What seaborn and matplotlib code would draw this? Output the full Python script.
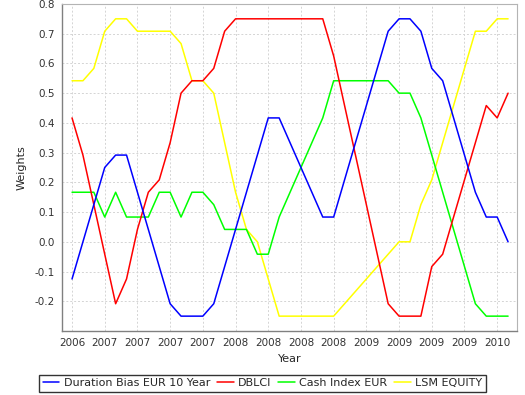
import matplotlib
matplotlib.use("Agg")
import matplotlib.pyplot as plt
import pandas as pd
import seaborn as sns
from matplotlib.lines import Line2D

# ── Data (monthly weights, Dec 2006 .. Apr 2010) ──────────
series_names = ["Duration Bias EUR 10 Year", "DBLCI", "Cash Index EUR", "LSM EQUITY"]
series_colors = ["#0000ff", "#ff0000", "#00ff00", "#ffff00"]

duration_bias = [-0.125, 0.0, 0.125, 0.25, 0.2917, 0.2917, 0.1667, 0.0417, -0.0833, -0.2083,
                 -0.25, -0.25, -0.25, -0.2083, -0.0833, 0.0417, 0.1667, 0.2917, 0.4167, 0.4167,
                 0.3333, 0.25, 0.1667, 0.0833, 0.0833, 0.2083, 0.3333, 0.4583, 0.5833, 0.7083,
                 0.75, 0.75, 0.7083, 0.5833, 0.5417, 0.4167, 0.2917, 0.1667, 0.0833, 0.0833, 0.0]
dblci = [0.4167, 0.2917, 0.125, -0.0417, -0.2083, -0.125, 0.0417, 0.1667, 0.2083, 0.3333,
         0.5, 0.5417, 0.5417, 0.5833, 0.7083, 0.75, 0.75, 0.75, 0.75, 0.75,
         0.75, 0.75, 0.75, 0.75, 0.625, 0.4583, 0.2917, 0.125, -0.0417, -0.2083,
         -0.25, -0.25, -0.25, -0.0833, -0.0417, 0.0833, 0.2083, 0.3333, 0.4583, 0.4167, 0.5]
cash_index = [0.1667, 0.1667, 0.1667, 0.0833, 0.1667, 0.0833, 0.0833, 0.0833, 0.1667, 0.1667,
              0.0833, 0.1667, 0.1667, 0.125, 0.0417, 0.0417, 0.0417, -0.0417, -0.0417, 0.0833,
              0.1667, 0.25, 0.3333, 0.4167, 0.5417, 0.5417, 0.5417, 0.5417, 0.5417, 0.5417,
              0.5, 0.5, 0.4167, 0.2917, 0.1667, 0.0417, -0.0833, -0.2083, -0.25, -0.25, -0.25]
lsm_equity = [0.5417, 0.5417, 0.5833, 0.7083, 0.75, 0.75, 0.7083, 0.7083, 0.7083, 0.7083,
              0.6667, 0.5417, 0.5417, 0.5, 0.3333, 0.1667, 0.0417, 0.0, -0.125, -0.25,
              -0.25, -0.25, -0.25, -0.25, -0.25, -0.2083, -0.1667, -0.125, -0.0833, -0.0417,
              0.0, 0.0, 0.125, 0.2083, 0.3333, 0.4583, 0.5833, 0.7083, 0.7083, 0.75, 0.75]

# quarterly tick labels (every 3rd month)
tick_labels = ["2006", "2007", "2007", "2007", "2007", "2008", "2008",
               "2008", "2008", "2009", "2009", "2009", "2009", "2010"]
y_ticks = [-0.2, -0.1, 0.0, 0.1, 0.2, 0.3, 0.4, 0.5, 0.6, 0.7, 0.8]

# ── Long-form frame ───────────────────────────────────────
all_values = [duration_bias, dblci, cash_index, lsm_equity]
rows = []
for name, vals in zip(series_names, all_values):
    for i, v in enumerate(vals):
        rows.append({"month": i, "weight": v, "series": name})
df = pd.DataFrame(rows)

# ── Plot ──────────────────────────────────────────────────
sns.set_style("white")
plt.rcParams["font.family"] = ["DejaVu Sans"]

fig = plt.figure(figsize=(5.25, 3.95), dpi=100)
ax = fig.add_axes([0.1181, 0.162, 0.8667, 0.828])

# draw last series first so the first one sits on top
sns.lineplot(data=df, x="month", y="weight", hue="series",
             hue_order=series_names[::-1], palette=series_colors[::-1],
             linewidth=1.1, legend=False, ax=ax)

n = len(duration_bias)
ax.set_xlim(-0.92, n - 1 + 0.82)
ax.set_ylim(-0.3, 0.8)
ax.set_xticks(range(0, n, 3))
ax.set_xticklabels(tick_labels)
ax.set_yticks(y_ticks)
ax.set_yticklabels([f"{t:.1f}" for t in y_ticks])

ax.grid(True, color="#d4d4d4", linestyle=(0, (2, 2)), linewidth=0.7)
for side in ["left", "bottom"]:
    ax.spines[side].set_color("#808080")
    ax.spines[side].set_linewidth(1.0)
for side in ["top", "right"]:
    ax.spines[side].set_color("#b4b4b4")
    ax.spines[side].set_linewidth(0.8)

ax.tick_params(direction="out", length=2, width=0.8, color="#808080",
               labelsize=7.5, pad=3, labelcolor="#333333")
ax.set_xlabel("Year", fontsize=8, labelpad=4)
ax.set_ylabel("Weights", fontsize=8, labelpad=6)

handles = [Line2D([], [], color=c, linewidth=1.1) for c in series_colors]
leg = fig.legend(handles, series_names, loc="lower center", bbox_to_anchor=(0.5, 0.0),
                 ncol=4, frameon=True, fancybox=False, edgecolor="black",
                 fontsize=8, handlelength=1.5, handletextpad=0.4,
                 columnspacing=0.6, borderpad=0.3, borderaxespad=0.3)
leg.get_frame().set_linewidth(1.0)

fig.savefig("out.png", dpi=100)
